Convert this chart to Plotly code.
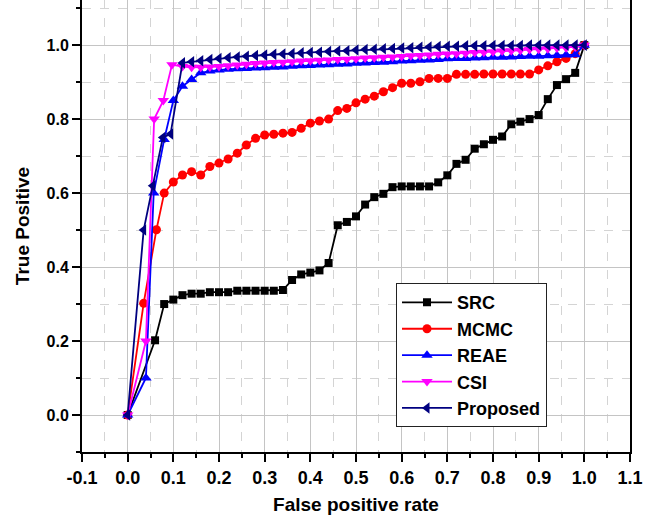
import plotly.graph_objects as go

# ---------------- data ----------------
src_x = [0.0, 0.06, 0.08, 0.10, 0.12, 0.14, 0.16, 0.18, 0.20, 0.22, 0.24, 0.26, 0.28, 0.30,
         0.32, 0.34, 0.36, 0.38, 0.40, 0.42, 0.44, 0.46, 0.48, 0.50, 0.52, 0.54, 0.56, 0.58,
         0.60, 0.62, 0.64, 0.66, 0.68, 0.70, 0.72, 0.74, 0.76, 0.78, 0.80, 0.82, 0.84, 0.86,
         0.88, 0.90, 0.92, 0.94, 0.96, 0.98, 1.0]
src_y = [0.0, 0.202, 0.300, 0.312, 0.324, 0.328, 0.328, 0.332, 0.332, 0.332, 0.336, 0.336,
         0.336, 0.336, 0.336, 0.338, 0.365, 0.380, 0.385, 0.391, 0.411, 0.513, 0.522, 0.537,
         0.569, 0.589, 0.598, 0.616, 0.618, 0.618, 0.618, 0.618, 0.629, 0.648, 0.679, 0.690,
         0.720, 0.732, 0.744, 0.753, 0.786, 0.793, 0.800, 0.811, 0.854, 0.892, 0.908, 0.925, 1.0]

mcmc_x = [0.0, 0.035, 0.063, 0.08, 0.10, 0.12, 0.14, 0.16, 0.18, 0.20, 0.22, 0.24, 0.26, 0.28,
          0.30, 0.32, 0.34, 0.36, 0.38, 0.40, 0.42, 0.44, 0.46, 0.48, 0.50, 0.52, 0.54, 0.56,
          0.58, 0.60, 0.62, 0.64, 0.66, 0.68, 0.70, 0.72, 0.74, 0.76, 0.78, 0.80, 0.82, 0.84,
          0.86, 0.88, 0.90, 0.92, 0.94, 0.96, 0.98, 1.0]
mcmc_y = [0.0, 0.302, 0.501, 0.600, 0.630, 0.649, 0.658, 0.649, 0.672, 0.681, 0.692, 0.708,
          0.730, 0.748, 0.757, 0.759, 0.762, 0.764, 0.775, 0.789, 0.795, 0.800, 0.823, 0.829,
          0.844, 0.854, 0.862, 0.874, 0.885, 0.897, 0.897, 0.901, 0.910, 0.910, 0.910, 0.921,
          0.921, 0.921, 0.922, 0.922, 0.922, 0.922, 0.922, 0.922, 0.933, 0.944, 0.955, 0.964,
          0.977, 1.0]

reae_x = [0.0, 0.04, 0.057, 0.08, 0.10, 0.12, 0.14, 0.16, 0.18, 0.20, 0.22, 0.24, 0.26, 0.28,
          0.30, 0.32, 0.34, 0.36, 0.38, 0.40, 0.42, 0.44, 0.46, 0.48, 0.50, 0.52, 0.54, 0.56,
          0.58, 0.60, 0.62, 0.64, 0.66, 0.68, 0.70, 0.72, 0.74, 0.76, 0.78, 0.80, 0.82, 0.84,
          0.86, 0.88, 0.90, 0.92, 0.94, 0.96, 0.98, 1.0]
reae_y = [0.0, 0.10, 0.60, 0.745, 0.85, 0.889, 0.907, 0.925, 0.930, 0.933, 0.935, 0.936,
          0.937, 0.938, 0.939, 0.940, 0.941, 0.943, 0.944, 0.945, 0.946, 0.947, 0.948, 0.949,
          0.951, 0.952, 0.953, 0.954, 0.955, 0.957, 0.958, 0.959, 0.960, 0.961, 0.963, 0.964,
          0.964, 0.965, 0.966, 0.967, 0.967, 0.968, 0.969, 0.970, 0.970, 0.971, 0.972, 0.973,
          0.974, 1.0]

csi_x = [0.0, 0.04, 0.058, 0.078, 0.097, 0.12, 0.14, 0.16, 0.18, 0.20, 0.22, 0.24, 0.26, 0.28,
         0.30, 0.32, 0.34, 0.36, 0.38, 0.40, 0.42, 0.44, 0.46, 0.48, 0.50, 0.52, 0.54, 0.56,
         0.58, 0.60, 0.62, 0.64, 0.66, 0.68, 0.70, 0.72, 0.74, 0.76, 0.78, 0.80, 0.82, 0.84,
         0.86, 0.88, 0.90, 0.92, 0.94, 0.96, 0.98, 1.0]
csi_y = [0.0, 0.20, 0.80, 0.85, 0.947, 0.942, 0.940, 0.940, 0.941, 0.942, 0.944, 0.946,
         0.948, 0.950, 0.952, 0.953, 0.954, 0.955, 0.957, 0.958, 0.959, 0.960, 0.961, 0.962,
         0.963, 0.965, 0.966, 0.967, 0.968, 0.969, 0.971, 0.972, 0.973, 0.975, 0.976, 0.977,
         0.978, 0.980, 0.981, 0.982, 0.984, 0.985, 0.986, 0.988, 0.989, 0.990, 0.992, 0.993,
         0.995, 1.0]

prop_x = [0.0, 0.035, 0.055, 0.077, 0.094, 0.12, 0.14, 0.16, 0.18, 0.20, 0.22, 0.24, 0.26,
          0.28, 0.30, 0.32, 0.34, 0.36, 0.38, 0.40, 0.42, 0.44, 0.46, 0.48, 0.50, 0.52, 0.54,
          0.56, 0.58, 0.60, 0.62, 0.64, 0.66, 0.68, 0.70, 0.72, 0.74, 0.76, 0.78, 0.80, 0.82,
          0.84, 0.86, 0.88, 0.90, 0.92, 0.94, 0.96, 0.98, 1.0]
prop_y = [0.0, 0.50, 0.62, 0.75, 0.76, 0.952, 0.955, 0.958, 0.961, 0.964, 0.966, 0.968,
          0.970, 0.972, 0.973, 0.975, 0.976, 0.977, 0.979, 0.980, 0.981, 0.983, 0.984, 0.985,
          0.987, 0.988, 0.989, 0.990, 0.991, 0.992, 0.993, 0.994, 0.995, 0.996, 0.997, 0.997,
          0.998, 0.998, 0.998, 0.999, 0.999, 0.999, 0.999, 1.0, 1.0, 1.0, 1.0, 1.0, 1.0, 1.0]

x_tick_vals = [-0.1, 0.0, 0.1, 0.2, 0.3, 0.4, 0.5, 0.6, 0.7, 0.8, 0.9, 1.0, 1.1]
x_tick_text = ["-0.1", "0.0", "0.1", "0.2", "0.3", "0.4", "0.5", "0.6", "0.7", "0.8",
               "0.9", "1.0", "1.1"]
y_tick_vals = [0.0, 0.2, 0.4, 0.6, 0.8, 1.0]
y_tick_text = ["0.0", "0.2", "0.4", "0.6", "0.8", "1.0"]

series = [
    ("SRC", src_x, src_y, "#000000", "square", 8),
    ("MCMC", mcmc_x, mcmc_y, "#ff0000", "circle", 9),
    ("REAE", reae_x, reae_y, "#0000ff", "triangle-up", 10),
    ("CSI", csi_x, csi_y, "#ff00ff", "triangle-down", 10),
    ("Proposed", prop_x, prop_y, "#000080", "triangle-left", 10),
]

FONT = "Liberation Sans, Arial, sans-serif"

fig = go.Figure()
for name, xs, ys, col, sym, sz in series:
    fig.add_trace(go.Scatter(
        x=xs, y=ys, name=name, mode="lines+markers",
        line=dict(color=col, width=1.8),
        marker=dict(symbol=sym, size=sz, color=col, line=dict(width=0)),
    ))

fig.update_layout(
    width=655, height=521,
    margin=dict(l=82, r=25, t=0, b=69),
    paper_bgcolor="white", plot_bgcolor="white",
    font=dict(family=FONT, color="black"),
    showlegend=True,
    legend=dict(
        x=0.573, y=0.055, xanchor="left", yanchor="bottom",
        bgcolor="white", bordercolor="#222222", borderwidth=1,
        font=dict(family=FONT, size=18, weight="bold", color="black"),
        itemwidth=50, tracegroupgap=0,
    ),
)

fig.update_xaxes(
    range=[-0.1, 1.1], tickmode="array", tickvals=x_tick_vals, ticktext=x_tick_text,
    ticks="outside", ticklen=8, tickwidth=1.5, tickcolor="black",
    tickfont=dict(family=FONT, size=18, weight="bold"),
    showline=True, linewidth=2, linecolor="black", mirror=False,
    showgrid=True, gridcolor="#c4c4c4", gridwidth=1, zeroline=False,
    minor=dict(dtick=0.05, tick0=0.0, ticks="outside", ticklen=4, tickwidth=1.5,
               tickcolor="black", showgrid=True, gridcolor="#d4d4d4", griddash="dash",
               gridwidth=1),
    title=dict(text="False positive rate", standoff=11,
               font=dict(family=FONT, size=19, weight="bold")),
)
fig.update_yaxes(
    range=[-0.1, 1.122], tickmode="array", tickvals=y_tick_vals, ticktext=y_tick_text,
    ticks="outside", ticklen=8, tickwidth=1.5, tickcolor="black",
    tickfont=dict(family=FONT, size=16, weight="bold"),
    showline=True, linewidth=2, linecolor="black", mirror=True,
    showgrid=True, gridcolor="#c4c4c4", gridwidth=1, zeroline=False,
    minor=dict(dtick=0.1, tick0=0.1, ticks="outside", ticklen=4, tickwidth=1.5,
               tickcolor="black", showgrid=True, gridcolor="#d4d4d4", griddash="dash",
               gridwidth=1),
    title=dict(text="True Positive", standoff=12,
               font=dict(family=FONT, size=19, weight="bold")),
)

fig.write_html("out.html")
